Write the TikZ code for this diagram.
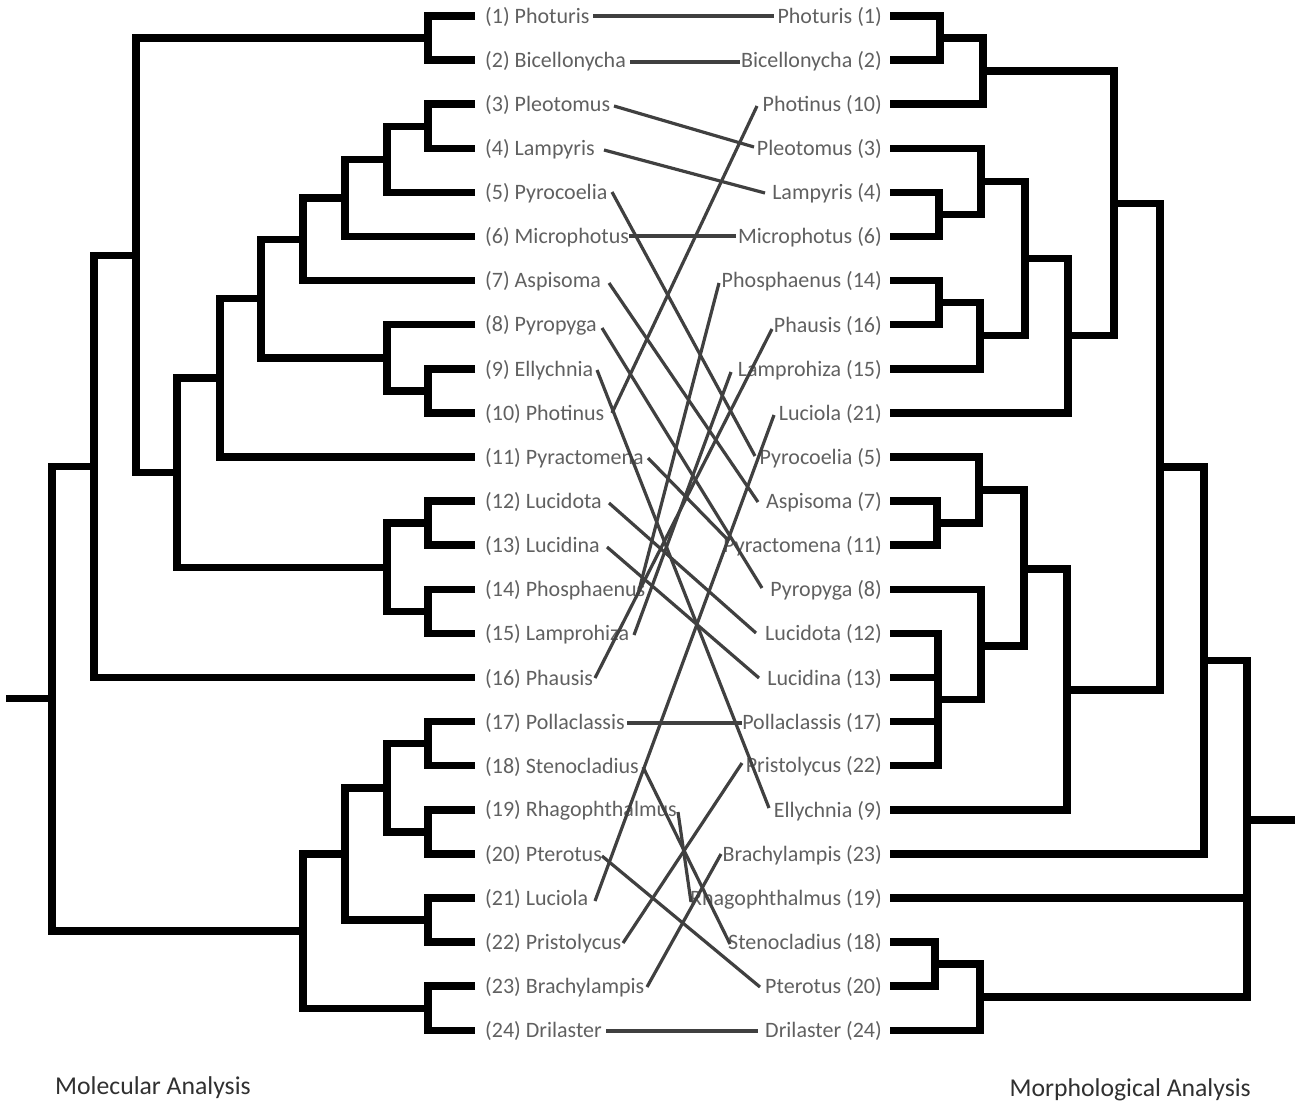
\documentclass[tikz,border=0pt]{standalone}
\usepackage{fontspec}
\setmainfont{Carlito}
\definecolor{labgray}{HTML}{606060}
\definecolor{linkgray}{HTML}{404040}
\definecolor{titlegray}{HTML}{303030}
\newcommand{\labfont}{\fontsize{22}{26}\selectfont}
\newcommand{\ttlfont}{\fontsize{25.7}{30}\selectfont}
\begin{document}
\begin{tikzpicture}[x=1pt,y=-1pt,
  tree/.style={line width=7.5pt,line join=miter,line cap=butt,draw=black},
  link/.style={line width=3.2pt,draw=linkgray,line cap=butt},
  llab/.style={font=\labfont,text=labgray,inner sep=0pt,anchor=west},
  rlab/.style={font=\labfont,text=labgray,inner sep=0pt,anchor=east},
  ttl/.style={font=\ttlfont,text=titlegray,inner sep=0pt}]
\useasboundingbox (0,0) rectangle (1295,1103);

% ---------- left tree (molecular) ----------
\draw[tree] (475,16)--(428,16)--(428,60.1)--(475,60.1);
\draw[tree] (428,38)--(136,38)--(136,472.5)--(177,472.5);
\draw[tree] (220,377.8)--(177,377.8)--(177,567.25)--(387,567.25);
\draw[tree] (261,298.5)--(220,298.5)--(220,457)--(475,457);
\draw[tree] (303,239.3)--(261,239.3)--(261,357.8)--(387,357.8);
\draw[tree] (345,197.9)--(303,197.9)--(303,280.6)--(475,280.6);
\draw[tree] (387,159.3)--(345,159.3)--(345,236.5)--(475,236.5);
\draw[tree] (428,126.25)--(387,126.25)--(387,192.4)--(475,192.4);
\draw[tree] (475,104.2)--(428,104.2)--(428,148.3)--(475,148.3);
\draw[tree] (475,324.7)--(387,324.7)--(387,390.85)--(428,390.85);
\draw[tree] (475,368.8)--(428,368.8)--(428,412.9)--(475,412.9);
\draw[tree] (428,523.15)--(387,523.15)--(387,611.35)--(428,611.35);
\draw[tree] (475,501.1)--(428,501.1)--(428,545.2)--(475,545.2);
\draw[tree] (475,589.3)--(428,589.3)--(428,633.4)--(475,633.4);
\draw[tree] (136,255.3)--(94,255.3)--(94,677.5)--(475,677.5);
\draw[tree] (94,466.4)--(52,466.4)--(52,931)--(303,931);
\draw[tree] (6,698.7)--(52,698.7);
\draw[tree] (345,853.9)--(303,853.9)--(303,1008.25)--(428,1008.25);
\draw[tree] (387,787.75)--(345,787.75)--(345,920.05)--(428,920.05);
\draw[tree] (428,743.65)--(387,743.65)--(387,831.85)--(428,831.85);
\draw[tree] (475,721.6)--(428,721.6)--(428,765.7)--(475,765.7);
\draw[tree] (475,809.8)--(428,809.8)--(428,853.9)--(475,853.9);
\draw[tree] (475,898)--(428,898)--(428,942.1)--(475,942.1);
\draw[tree] (475,986.2)--(428,986.2)--(428,1030.3)--(475,1030.3);

% ---------- right tree (morphological) ----------
\draw[tree] (890,16)--(940,16)--(940,60.1)--(890,60.1);
\draw[tree] (940,38)--(983,38)--(983,104.2)--(890,104.2);
\draw[tree] (983,71.1)--(1114,71.1)--(1114,335.7)--(1068,335.7);
\draw[tree] (890,192.4)--(939,192.4)--(939,236.5)--(890,236.5);
\draw[tree] (890,148.3)--(981,148.3)--(981,214.45)--(939,214.45);
\draw[tree] (890,280.6)--(939,280.6)--(939,324.7)--(890,324.7);
\draw[tree] (939,302.65)--(980,302.65)--(980,368.8)--(890,368.8);
\draw[tree] (981,181.4)--(1025,181.4)--(1025,335.7)--(980,335.7);
\draw[tree] (1025,258.55)--(1068,258.55)--(1068,412.9)--(890,412.9);
\draw[tree] (1114,203.4)--(1160,203.4)--(1160,690)--(1067,690);
\draw[tree] (1160,467)--(1204,467)--(1204,853.9)--(890,853.9);
\draw[tree] (1204,660.5)--(1247,660.5)--(1247,997.2)--(980,997.2);
\draw[tree] (890,898)--(1247,898);
\draw[tree] (1247,820)--(1295,820);
\draw[tree] (1024,569)--(1067,569)--(1067,809.8)--(890,809.8);
\draw[tree] (979,490)--(1024,490)--(1024,646)--(981,646);
\draw[tree] (890,457)--(979,457)--(979,523.15)--(937,523.15);
\draw[tree] (890,501.1)--(937,501.1)--(937,545.2)--(890,545.2);
\draw[tree] (890,589.3)--(981,589.3)--(981,699.55)--(938,699.55);
\draw[tree] (890,633.4)--(938,633.4)--(938,765.7)--(890,765.7);
\draw[tree] (890,677.5)--(938,677.5);
\draw[tree] (890,721.6)--(938,721.6);
\draw[tree] (935,964.15)--(980,964.15)--(980,1030.3)--(890,1030.3);
\draw[tree] (890,942.1)--(935,942.1)--(935,986.2)--(890,986.2);

% ---------- left labels ----------
\node[llab] (l1)  at (485,17)    {(1) Photuris};
\node[llab] (l2)  at (485,61.1)  {(2) Bicellonycha};
\node[llab] (l3)  at (485,105.2) {(3) Pleotomus};
\node[llab] (l4)  at (485,149.3) {(4) Lampyris};
\node[llab] (l5)  at (485,193.4) {(5) Pyrocoelia};
\node[llab] (l6)  at (485,237.5) {(6) Microphotus};
\node[llab] (l7)  at (485,281.6) {(7) Aspisoma};
\node[llab] (l8)  at (485,325.7) {(8) Pyropyga};
\node[llab] (l9)  at (485,369.8) {(9) Ellychnia};
\node[llab] (l10) at (485,413.9) {(10) Photinus};
\node[llab] (l11) at (485,458)   {(11) Pyractomena};
\node[llab] (l12) at (485,502.1) {(12) Lucidota};
\node[llab] (l13) at (485,546.2) {(13) Lucidina};
\node[llab] (l14) at (485,590.3) {(14) Phosphaenus};
\node[llab] (l15) at (485,634.4) {(15) Lamprohiza};
\node[llab] (l16) at (485,678.5) {(16) Phausis};
\node[llab] (l17) at (485,722.6) {(17) Pollaclassis};
\node[llab] (l18) at (485,766.7) {(18) Stenocladius};
\node[llab] (l19) at (485,810.8) {(19) Rhagophthalmus};
\node[llab] (l20) at (485,854.9) {(20) Pterotus};
\node[llab] (l21) at (485,899)   {(21) Luciola};
\node[llab] (l22) at (485,943.1) {(22) Pristolycus};
\node[llab] (l23) at (485,987.2) {(23) Brachylampis};
\node[llab] (l24) at (485,1031.3){(24) Drilaster};

% ---------- right labels ----------
\node[rlab] (r1)  at (882,17)    {Photuris (1)};
\node[rlab] (r2)  at (882,61.1)  {Bicellonycha (2)};
\node[rlab] (r10) at (882,105.2) {Photinus (10)};
\node[rlab] (r3)  at (882,149.3) {Pleotomus (3)};
\node[rlab] (r4)  at (882,193.4) {Lampyris (4)};
\node[rlab] (r6)  at (882,237.5) {Microphotus (6)};
\node[rlab] (r14) at (882,281.6) {Phosphaenus (14)};
\node[rlab] (r16) at (882,325.7) {Phausis (16)};
\node[rlab] (r15) at (882,369.8) {Lamprohiza (15)};
\node[rlab] (r21) at (882,413.9) {Luciola (21)};
\node[rlab] (r5)  at (882,458)   {Pyrocoelia (5)};
\node[rlab] (r7)  at (882,502.1) {Aspisoma (7)};
\node[rlab] (r11) at (882,546.2) {Pyractomena (11)};
\node[rlab] (r8)  at (882,590.3) {Pyropyga (8)};
\node[rlab] (r12) at (882,634.4) {Lucidota (12)};
\node[rlab] (r13) at (882,678.5) {Lucidina (13)};
\node[rlab] (r17) at (882,722.6) {Pollaclassis (17)};
\node[rlab] (r22) at (882,766.7) {Pristolycus (22)};
\node[rlab] (r9)  at (882,810.8) {Ellychnia (9)};
\node[rlab] (r23) at (882,854.9) {Brachylampis (23)};
\node[rlab] (r19) at (882,899)   {Rhagophthalmus (19)};
\node[rlab] (r18) at (882,943.1) {Stenocladius (18)};
\node[rlab] (r20) at (882,987.2) {Pterotus (20)};
\node[rlab] (r24) at (882,1031.3){Drilaster (24)};

% ---------- connector end points ----------
\coordinate (a1)  at (593,16);    \coordinate (b1)  at (774,16);
\coordinate (a2)  at (630,62);    \coordinate (b2)  at (740,62);
\coordinate (a3)  at (614,106);   \coordinate (b3)  at (754,147);
\coordinate (a4)  at (604,150);   \coordinate (b4)  at (765,193);
\coordinate (a5)  at (612,192);   \coordinate (b5)  at (755,456);
\coordinate (a6)  at (629,236);   \coordinate (b6)  at (736,236);
\coordinate (a7)  at (609,283);   \coordinate (b7)  at (758,502);
\coordinate (a8)  at (602,328);   \coordinate (b8)  at (762,588);
\coordinate (a9)  at (597,370);   \coordinate (b9)  at (769,808);
\coordinate (a10) at (612,413);   \coordinate (b10) at (757,106);
\coordinate (a11) at (648,458);   \coordinate (b11) at (729,541);
\coordinate (a12) at (609,503);   \coordinate (b12) at (756,633);
\coordinate (a13) at (607,547);   \coordinate (b13) at (759,678);
\coordinate (a14) at (638,594);   \coordinate (b14) at (719,283);
\coordinate (a15) at (634,635);   \coordinate (b15) at (731,372);
\coordinate (a16) at (595,678);   \coordinate (b16) at (772,329);
\coordinate (a17) at (627,723);   \coordinate (b17) at (742,723);
\coordinate (a18) at (643,767);   \coordinate (b18) at (730,944);
\coordinate (a19) at (678,812);   \coordinate (b19) at (691,902);
\coordinate (a20) at (602,856);   \coordinate (b20) at (760,987);
\coordinate (a21) at (595,901);   \coordinate (b21) at (774,415);
\coordinate (a22) at (623,943);   \coordinate (b22) at (742,763);
\coordinate (a23) at (647,987);   \coordinate (b23) at (721,854);
\coordinate (a24) at (606,1031);  \coordinate (b24) at (758,1031);

\foreach \k in {1,...,24} { \draw[link] (a\k) -- (b\k); }

% ---------- titles ----------
\node[ttl,anchor=west] (molt) at (55,1088) {Molecular Analysis};
\node[ttl,anchor=east] (mort) at (1251,1090) {Morphological Analysis};
\end{tikzpicture}
\end{document}
